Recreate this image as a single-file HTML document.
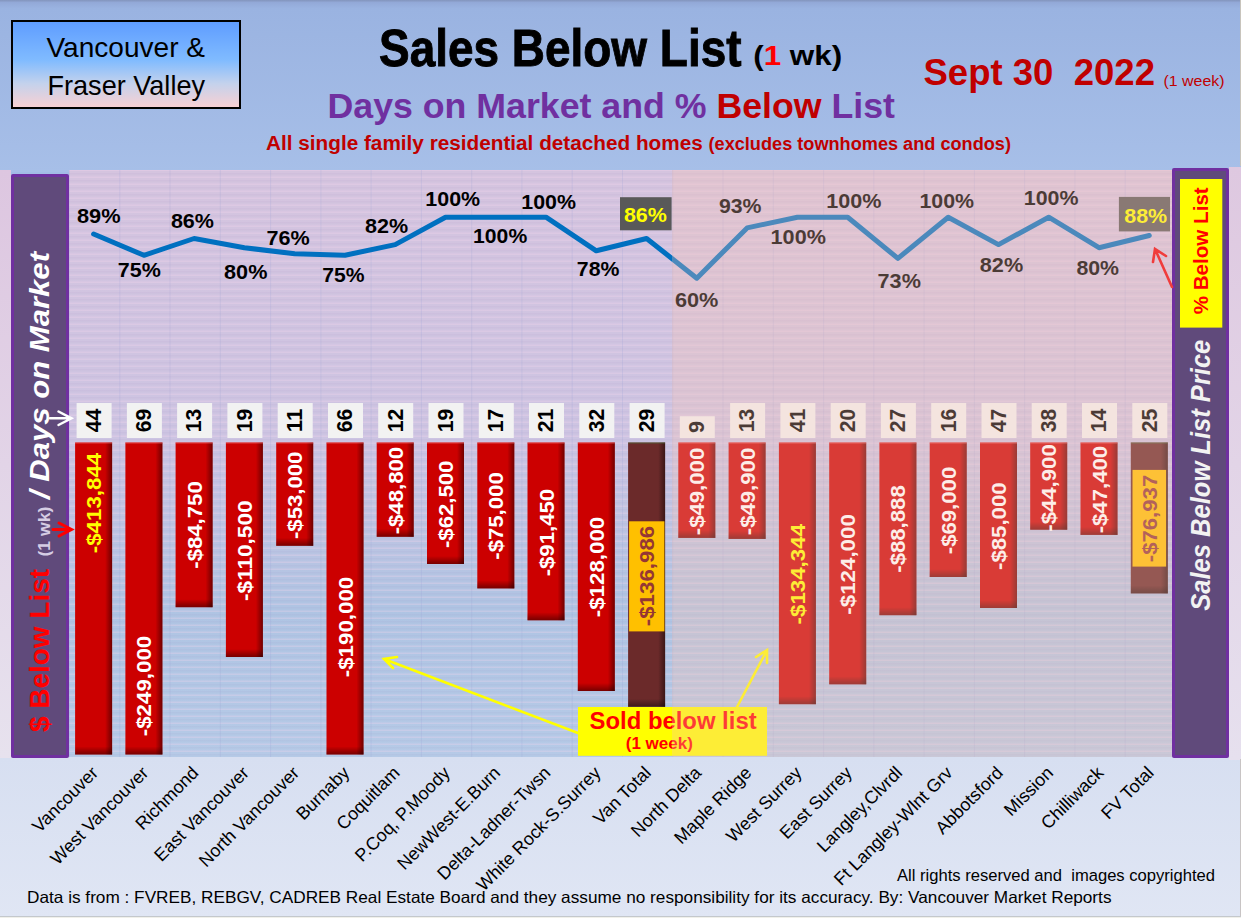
<!DOCTYPE html>
<html><head><meta charset="utf-8"><title>Sales Below List</title>
<style>
html,body{margin:0;padding:0;background:#A3BCE6;}
body{width:1241px;height:918px;overflow:hidden;position:relative;}
svg{position:absolute;left:0;top:0;display:block;}
text{font-family:"Liberation Sans",sans-serif;white-space:pre;}
</style></head><body>
<svg width="1241" height="918" viewBox="0 0 1241 918">
<defs>
<linearGradient id="hdr" x1="0" y1="0" x2="0" y2="1">
 <stop offset="0" stop-color="#8294BC"/><stop offset="0.015" stop-color="#93A9D8"/><stop offset="0.05" stop-color="#9AB3E1"/><stop offset="1" stop-color="#A7BFE8"/>
</linearGradient>
<linearGradient id="plotV" x1="0" y1="0" x2="0" y2="1">
 <stop offset="0" stop-color="#D5C4DF"/><stop offset="0.45" stop-color="#CDC4E2"/><stop offset="0.75" stop-color="#AFC4E3"/><stop offset="1" stop-color="#B6CAE7"/>
</linearGradient>
<linearGradient id="lstrip" x1="0" y1="0" x2="0" y2="1">
 <stop offset="0" stop-color="#DDC6E0"/><stop offset="1" stop-color="#E7E2EE"/>
</linearGradient>
<linearGradient id="rstrip" x1="0" y1="0" x2="0" y2="1">
 <stop offset="0" stop-color="#DEC8E0"/><stop offset="1" stop-color="#E6E0EE"/>
</linearGradient>
<linearGradient id="boxg" x1="0" y1="0" x2="0" y2="1">
 <stop offset="0" stop-color="#5E9CFF"/><stop offset="0.45" stop-color="#80BBFF"/><stop offset="0.72" stop-color="#C4D2EC"/><stop offset="1" stop-color="#FAD0D2"/>
</linearGradient>
<linearGradient id="botg" x1="0" y1="0" x2="0" y2="1">
 <stop offset="0" stop-color="#D7DFF1"/><stop offset="1" stop-color="#E0E6F4"/>
</linearGradient>
<pattern id="stripes" x="0" y="0" width="7" height="7" patternUnits="userSpaceOnUse">
 <rect x="0" y="1.5" width="7" height="1.5" fill="#F4D4EC" fill-opacity="0.30"/>
 <rect x="0" y="5" width="7" height="1.5" fill="#8070A0" fill-opacity="0.06"/>
</pattern>
<linearGradient id="shR" x1="0" y1="0" x2="1" y2="0">
 <stop offset="0" stop-color="#000" stop-opacity="0"/><stop offset="1" stop-color="#000" stop-opacity="0.45"/>
</linearGradient>
<linearGradient id="shB" x1="0" y1="0" x2="0" y2="1">
 <stop offset="0" stop-color="#000" stop-opacity="0"/><stop offset="1" stop-color="#000" stop-opacity="0.42"/>
</linearGradient>
</defs>

<rect x="0" y="0" width="1241" height="172" fill="url(#hdr)"/>
<rect x="0" y="757" width="1241" height="161" fill="url(#botg)"/>
<rect x="0" y="170" width="11" height="588" fill="url(#lstrip)"/>
<rect x="1229" y="167" width="12" height="593" fill="url(#rstrip)"/>
<rect x="69" y="170" width="1103" height="587" fill="url(#plotV)"/>
<rect x="69" y="170" width="1103" height="587" fill="url(#stripes)"/>
<rect x="69.0" y="170" width="1" height="587" fill="#9AA0D8" fill-opacity="0.22"/>
<rect x="119.3" y="170" width="1" height="587" fill="#9AA0D8" fill-opacity="0.22"/>
<rect x="169.5" y="170" width="1" height="587" fill="#9AA0D8" fill-opacity="0.22"/>
<rect x="219.8" y="170" width="1" height="587" fill="#9AA0D8" fill-opacity="0.22"/>
<rect x="270.1" y="170" width="1" height="587" fill="#9AA0D8" fill-opacity="0.22"/>
<rect x="320.4" y="170" width="1" height="587" fill="#9AA0D8" fill-opacity="0.22"/>
<rect x="370.6" y="170" width="1" height="587" fill="#9AA0D8" fill-opacity="0.22"/>
<rect x="420.9" y="170" width="1" height="587" fill="#9AA0D8" fill-opacity="0.22"/>
<rect x="471.2" y="170" width="1" height="587" fill="#9AA0D8" fill-opacity="0.22"/>
<rect x="521.4" y="170" width="1" height="587" fill="#9AA0D8" fill-opacity="0.22"/>
<rect x="571.7" y="170" width="1" height="587" fill="#9AA0D8" fill-opacity="0.22"/>
<rect x="622.0" y="170" width="1" height="587" fill="#9AA0D8" fill-opacity="0.22"/>
<rect x="672.2" y="170" width="1" height="587" fill="#9AA0D8" fill-opacity="0.22"/>
<rect x="722.5" y="170" width="1" height="587" fill="#9AA0D8" fill-opacity="0.22"/>
<rect x="772.8" y="170" width="1" height="587" fill="#9AA0D8" fill-opacity="0.22"/>
<rect x="823.1" y="170" width="1" height="587" fill="#9AA0D8" fill-opacity="0.22"/>
<rect x="873.3" y="170" width="1" height="587" fill="#9AA0D8" fill-opacity="0.22"/>
<rect x="923.6" y="170" width="1" height="587" fill="#9AA0D8" fill-opacity="0.22"/>
<rect x="973.9" y="170" width="1" height="587" fill="#9AA0D8" fill-opacity="0.22"/>
<rect x="1024.1" y="170" width="1" height="587" fill="#9AA0D8" fill-opacity="0.22"/>
<rect x="1074.4" y="170" width="1" height="587" fill="#9AA0D8" fill-opacity="0.22"/>
<rect x="1124.7" y="170" width="1" height="587" fill="#9AA0D8" fill-opacity="0.22"/>
<rect x="1174.9" y="170" width="1" height="587" fill="#9AA0D8" fill-opacity="0.22"/>
<rect x="1240" y="759" width="1" height="159" fill="#C8C4C4"/>
<rect x="1240" y="0" width="1" height="166" fill="#C8C4BC"/>
<rect x="0" y="916" width="1241" height="1" fill="#C4C8CC"/>
<rect x="0" y="917" width="1241" height="1" fill="#F0F0EA"/>
<rect x="75.1" y="442.5" width="37" height="312.0" fill="#CC0000"/>
<rect x="105.1" y="442.5" width="7" height="312.0" fill="url(#shR)"/>
<rect x="75.1" y="746.5" width="37" height="8" fill="url(#shB)"/>
<rect x="75.1" y="442.5" width="37" height="1" fill="#F06060" fill-opacity="0.7"/>
<rect x="125.4" y="442.5" width="37" height="312.0" fill="#CC0000"/>
<rect x="155.4" y="442.5" width="7" height="312.0" fill="url(#shR)"/>
<rect x="125.4" y="746.5" width="37" height="8" fill="url(#shB)"/>
<rect x="125.4" y="442.5" width="37" height="1" fill="#F06060" fill-opacity="0.7"/>
<rect x="175.6" y="442.5" width="37" height="164.7" fill="#CC0000"/>
<rect x="205.6" y="442.5" width="7" height="164.7" fill="url(#shR)"/>
<rect x="175.6" y="599.2" width="37" height="8" fill="url(#shB)"/>
<rect x="175.6" y="442.5" width="37" height="1" fill="#F06060" fill-opacity="0.7"/>
<rect x="225.9" y="442.5" width="37" height="214.5" fill="#CC0000"/>
<rect x="255.9" y="442.5" width="7" height="214.5" fill="url(#shR)"/>
<rect x="225.9" y="649.0" width="37" height="8" fill="url(#shB)"/>
<rect x="225.9" y="442.5" width="37" height="1" fill="#F06060" fill-opacity="0.7"/>
<rect x="276.2" y="442.5" width="37" height="103.3" fill="#CC0000"/>
<rect x="306.2" y="442.5" width="7" height="103.3" fill="url(#shR)"/>
<rect x="276.2" y="537.8" width="37" height="8" fill="url(#shB)"/>
<rect x="276.2" y="442.5" width="37" height="1" fill="#F06060" fill-opacity="0.7"/>
<rect x="326.5" y="442.5" width="37" height="312.0" fill="#CC0000"/>
<rect x="356.5" y="442.5" width="7" height="312.0" fill="url(#shR)"/>
<rect x="326.5" y="746.5" width="37" height="8" fill="url(#shB)"/>
<rect x="326.5" y="442.5" width="37" height="1" fill="#F06060" fill-opacity="0.7"/>
<rect x="376.7" y="442.5" width="37" height="94.3" fill="#CC0000"/>
<rect x="406.7" y="442.5" width="7" height="94.3" fill="url(#shR)"/>
<rect x="376.7" y="528.8" width="37" height="8" fill="url(#shB)"/>
<rect x="376.7" y="442.5" width="37" height="1" fill="#F06060" fill-opacity="0.7"/>
<rect x="427.0" y="442.5" width="37" height="121.5" fill="#CC0000"/>
<rect x="457.0" y="442.5" width="7" height="121.5" fill="url(#shR)"/>
<rect x="427.0" y="556.0" width="37" height="8" fill="url(#shB)"/>
<rect x="427.0" y="442.5" width="37" height="1" fill="#F06060" fill-opacity="0.7"/>
<rect x="477.3" y="442.5" width="37" height="145.9" fill="#CC0000"/>
<rect x="507.3" y="442.5" width="7" height="145.9" fill="url(#shR)"/>
<rect x="477.3" y="580.4" width="37" height="8" fill="url(#shB)"/>
<rect x="477.3" y="442.5" width="37" height="1" fill="#F06060" fill-opacity="0.7"/>
<rect x="527.5" y="442.5" width="37" height="177.8" fill="#CC0000"/>
<rect x="557.5" y="442.5" width="7" height="177.8" fill="url(#shR)"/>
<rect x="527.5" y="612.3" width="37" height="8" fill="url(#shB)"/>
<rect x="527.5" y="442.5" width="37" height="1" fill="#F06060" fill-opacity="0.7"/>
<rect x="577.8" y="442.5" width="37" height="248.5" fill="#CC0000"/>
<rect x="607.8" y="442.5" width="7" height="248.5" fill="url(#shR)"/>
<rect x="577.8" y="683.0" width="37" height="8" fill="url(#shB)"/>
<rect x="577.8" y="442.5" width="37" height="1" fill="#F06060" fill-opacity="0.7"/>
<rect x="628.1" y="442.5" width="37" height="264.3" fill="#6B2A2A"/>
<rect x="658.1" y="442.5" width="7" height="264.3" fill="url(#shR)"/>
<rect x="628.1" y="698.8" width="37" height="8" fill="url(#shB)"/>
<rect x="628.1" y="442.5" width="37" height="1" fill="#4A6A3A" fill-opacity="0.7"/>
<rect x="678.3" y="442.5" width="37" height="95.4" fill="#CC0000"/>
<rect x="708.3" y="442.5" width="7" height="95.4" fill="url(#shR)"/>
<rect x="678.3" y="529.9" width="37" height="8" fill="url(#shB)"/>
<rect x="678.3" y="442.5" width="37" height="1" fill="#F06060" fill-opacity="0.7"/>
<rect x="728.6" y="442.5" width="37" height="96.4" fill="#CC0000"/>
<rect x="758.6" y="442.5" width="7" height="96.4" fill="url(#shR)"/>
<rect x="728.6" y="530.9" width="37" height="8" fill="url(#shB)"/>
<rect x="728.6" y="442.5" width="37" height="1" fill="#F06060" fill-opacity="0.7"/>
<rect x="778.9" y="442.5" width="37" height="261.7" fill="#CC0000"/>
<rect x="808.9" y="442.5" width="7" height="261.7" fill="url(#shR)"/>
<rect x="778.9" y="696.2" width="37" height="8" fill="url(#shB)"/>
<rect x="778.9" y="442.5" width="37" height="1" fill="#F06060" fill-opacity="0.7"/>
<rect x="829.2" y="442.5" width="37" height="241.8" fill="#CC0000"/>
<rect x="859.2" y="442.5" width="7" height="241.8" fill="url(#shR)"/>
<rect x="829.2" y="676.3" width="37" height="8" fill="url(#shB)"/>
<rect x="829.2" y="442.5" width="37" height="1" fill="#F06060" fill-opacity="0.7"/>
<rect x="879.4" y="442.5" width="37" height="172.7" fill="#CC0000"/>
<rect x="909.4" y="442.5" width="7" height="172.7" fill="url(#shR)"/>
<rect x="879.4" y="607.2" width="37" height="8" fill="url(#shB)"/>
<rect x="879.4" y="442.5" width="37" height="1" fill="#F06060" fill-opacity="0.7"/>
<rect x="929.7" y="442.5" width="37" height="134.5" fill="#CC0000"/>
<rect x="959.7" y="442.5" width="7" height="134.5" fill="url(#shR)"/>
<rect x="929.7" y="569.0" width="37" height="8" fill="url(#shB)"/>
<rect x="929.7" y="442.5" width="37" height="1" fill="#F06060" fill-opacity="0.7"/>
<rect x="980.0" y="442.5" width="37" height="165.5" fill="#CC0000"/>
<rect x="1010.0" y="442.5" width="7" height="165.5" fill="url(#shR)"/>
<rect x="980.0" y="600.0" width="37" height="8" fill="url(#shB)"/>
<rect x="980.0" y="442.5" width="37" height="1" fill="#F06060" fill-opacity="0.7"/>
<rect x="1030.2" y="442.5" width="37" height="87.2" fill="#CC0000"/>
<rect x="1060.2" y="442.5" width="7" height="87.2" fill="url(#shR)"/>
<rect x="1030.2" y="521.7" width="37" height="8" fill="url(#shB)"/>
<rect x="1030.2" y="442.5" width="37" height="1" fill="#F06060" fill-opacity="0.7"/>
<rect x="1080.5" y="442.5" width="37" height="92.4" fill="#CC0000"/>
<rect x="1110.5" y="442.5" width="7" height="92.4" fill="url(#shR)"/>
<rect x="1080.5" y="526.9" width="37" height="8" fill="url(#shB)"/>
<rect x="1080.5" y="442.5" width="37" height="1" fill="#F06060" fill-opacity="0.7"/>
<rect x="1130.8" y="442.5" width="37" height="150.9" fill="#6B2A2A"/>
<rect x="1160.8" y="442.5" width="7" height="150.9" fill="url(#shR)"/>
<rect x="1130.8" y="585.4" width="37" height="8" fill="url(#shB)"/>
<rect x="1130.8" y="442.5" width="37" height="1" fill="#4A6A3A" fill-opacity="0.7"/>
<rect x="76.6" y="403" width="35" height="35.0" fill="#F2F2F2"/>
<text transform="translate(100.9,420.5) rotate(-90)" text-anchor="middle" font-size="21.3" font-weight="bold" fill="#000000" textLength="23.5" lengthAdjust="spacingAndGlyphs">44</text>
<rect x="126.9" y="403" width="35" height="35.0" fill="#F2F2F2"/>
<text transform="translate(151.2,420.5) rotate(-90)" text-anchor="middle" font-size="21.3" font-weight="bold" fill="#000000" textLength="23.5" lengthAdjust="spacingAndGlyphs">69</text>
<rect x="177.1" y="403" width="35" height="35.0" fill="#F2F2F2"/>
<text transform="translate(201.4,420.5) rotate(-90)" text-anchor="middle" font-size="21.3" font-weight="bold" fill="#000000" textLength="23.5" lengthAdjust="spacingAndGlyphs">13</text>
<rect x="227.4" y="403" width="35" height="35.0" fill="#F2F2F2"/>
<text transform="translate(251.7,420.5) rotate(-90)" text-anchor="middle" font-size="21.3" font-weight="bold" fill="#000000" textLength="23.5" lengthAdjust="spacingAndGlyphs">19</text>
<rect x="277.7" y="403" width="35" height="35.0" fill="#F2F2F2"/>
<text transform="translate(302.0,420.5) rotate(-90)" text-anchor="middle" font-size="21.3" font-weight="bold" fill="#000000" textLength="23.5" lengthAdjust="spacingAndGlyphs">11</text>
<rect x="328.0" y="403" width="35" height="35.0" fill="#F2F2F2"/>
<text transform="translate(352.3,420.5) rotate(-90)" text-anchor="middle" font-size="21.3" font-weight="bold" fill="#000000" textLength="23.5" lengthAdjust="spacingAndGlyphs">66</text>
<rect x="378.2" y="403" width="35" height="35.0" fill="#F2F2F2"/>
<text transform="translate(402.5,420.5) rotate(-90)" text-anchor="middle" font-size="21.3" font-weight="bold" fill="#000000" textLength="23.5" lengthAdjust="spacingAndGlyphs">12</text>
<rect x="428.5" y="403" width="35" height="35.0" fill="#F2F2F2"/>
<text transform="translate(452.8,420.5) rotate(-90)" text-anchor="middle" font-size="21.3" font-weight="bold" fill="#000000" textLength="23.5" lengthAdjust="spacingAndGlyphs">19</text>
<rect x="478.8" y="403" width="35" height="35.0" fill="#F2F2F2"/>
<text transform="translate(503.1,420.5) rotate(-90)" text-anchor="middle" font-size="21.3" font-weight="bold" fill="#000000" textLength="23.5" lengthAdjust="spacingAndGlyphs">17</text>
<rect x="529.0" y="403" width="35" height="35.0" fill="#F2F2F2"/>
<text transform="translate(553.3,420.5) rotate(-90)" text-anchor="middle" font-size="21.3" font-weight="bold" fill="#000000" textLength="23.5" lengthAdjust="spacingAndGlyphs">21</text>
<rect x="579.3" y="403" width="35" height="35.0" fill="#F2F2F2"/>
<text transform="translate(603.6,420.5) rotate(-90)" text-anchor="middle" font-size="21.3" font-weight="bold" fill="#000000" textLength="23.5" lengthAdjust="spacingAndGlyphs">32</text>
<rect x="629.6" y="403" width="35" height="35.0" fill="#F2F2F2"/>
<text transform="translate(653.9,420.5) rotate(-90)" text-anchor="middle" font-size="21.3" font-weight="bold" fill="#000000" textLength="23.5" lengthAdjust="spacingAndGlyphs">29</text>
<rect x="679.8" y="416.2" width="35" height="21.8" fill="#F2F2F2"/>
<text transform="translate(704.1,427.1) rotate(-90)" text-anchor="middle" font-size="21.3" font-weight="bold" fill="#000000" textLength="12" lengthAdjust="spacingAndGlyphs">9</text>
<rect x="730.1" y="403" width="35" height="35.0" fill="#F2F2F2"/>
<text transform="translate(754.4,420.5) rotate(-90)" text-anchor="middle" font-size="21.3" font-weight="bold" fill="#000000" textLength="23.5" lengthAdjust="spacingAndGlyphs">13</text>
<rect x="780.4" y="403" width="35" height="35.0" fill="#F2F2F2"/>
<text transform="translate(804.7,420.5) rotate(-90)" text-anchor="middle" font-size="21.3" font-weight="bold" fill="#000000" textLength="23.5" lengthAdjust="spacingAndGlyphs">41</text>
<rect x="830.7" y="403" width="35" height="35.0" fill="#F2F2F2"/>
<text transform="translate(855.0,420.5) rotate(-90)" text-anchor="middle" font-size="21.3" font-weight="bold" fill="#000000" textLength="23.5" lengthAdjust="spacingAndGlyphs">20</text>
<rect x="880.9" y="403" width="35" height="35.0" fill="#F2F2F2"/>
<text transform="translate(905.2,420.5) rotate(-90)" text-anchor="middle" font-size="21.3" font-weight="bold" fill="#000000" textLength="23.5" lengthAdjust="spacingAndGlyphs">27</text>
<rect x="931.2" y="403" width="35" height="35.0" fill="#F2F2F2"/>
<text transform="translate(955.5,420.5) rotate(-90)" text-anchor="middle" font-size="21.3" font-weight="bold" fill="#000000" textLength="23.5" lengthAdjust="spacingAndGlyphs">16</text>
<rect x="981.5" y="403" width="35" height="35.0" fill="#F2F2F2"/>
<text transform="translate(1005.8,420.5) rotate(-90)" text-anchor="middle" font-size="21.3" font-weight="bold" fill="#000000" textLength="23.5" lengthAdjust="spacingAndGlyphs">47</text>
<rect x="1031.7" y="403" width="35" height="35.0" fill="#F2F2F2"/>
<text transform="translate(1056.0,420.5) rotate(-90)" text-anchor="middle" font-size="21.3" font-weight="bold" fill="#000000" textLength="23.5" lengthAdjust="spacingAndGlyphs">38</text>
<rect x="1082.0" y="403" width="35" height="35.0" fill="#F2F2F2"/>
<text transform="translate(1106.3,420.5) rotate(-90)" text-anchor="middle" font-size="21.3" font-weight="bold" fill="#000000" textLength="23.5" lengthAdjust="spacingAndGlyphs">14</text>
<rect x="1132.3" y="403" width="35" height="35.0" fill="#F2F2F2"/>
<text transform="translate(1156.6,420.5) rotate(-90)" text-anchor="middle" font-size="21.3" font-weight="bold" fill="#000000" textLength="23.5" lengthAdjust="spacingAndGlyphs">25</text>
<text transform="translate(101.1,503.0) rotate(-90)" text-anchor="middle" font-size="20" font-weight="bold" fill="#FFFF00" textLength="100.5" lengthAdjust="spacingAndGlyphs">-$413,844</text>
<text transform="translate(151.4,686.0) rotate(-90)" text-anchor="middle" font-size="20" font-weight="bold" fill="#FFFFFF" textLength="100.5" lengthAdjust="spacingAndGlyphs">-$249,000</text>
<text transform="translate(201.6,525.0) rotate(-90)" text-anchor="middle" font-size="20" font-weight="bold" fill="#FFFFFF" textLength="87.5" lengthAdjust="spacingAndGlyphs">-$84,750</text>
<text transform="translate(251.9,550.7) rotate(-90)" text-anchor="middle" font-size="20" font-weight="bold" fill="#FFFFFF" textLength="100.5" lengthAdjust="spacingAndGlyphs">-$110,500</text>
<text transform="translate(302.2,495.3) rotate(-90)" text-anchor="middle" font-size="20" font-weight="bold" fill="#FFFFFF" textLength="87.5" lengthAdjust="spacingAndGlyphs">-$53,000</text>
<text transform="translate(352.5,627.0) rotate(-90)" text-anchor="middle" font-size="20" font-weight="bold" fill="#FFFFFF" textLength="100.5" lengthAdjust="spacingAndGlyphs">-$190,000</text>
<text transform="translate(402.7,490.6) rotate(-90)" text-anchor="middle" font-size="20" font-weight="bold" fill="#FFFFFF" textLength="87.5" lengthAdjust="spacingAndGlyphs">-$48,800</text>
<text transform="translate(453.0,504.3) rotate(-90)" text-anchor="middle" font-size="20" font-weight="bold" fill="#FFFFFF" textLength="87.5" lengthAdjust="spacingAndGlyphs">-$62,500</text>
<text transform="translate(503.3,516.0) rotate(-90)" text-anchor="middle" font-size="20" font-weight="bold" fill="#FFFFFF" textLength="87.5" lengthAdjust="spacingAndGlyphs">-$75,000</text>
<text transform="translate(553.5,532.6) rotate(-90)" text-anchor="middle" font-size="20" font-weight="bold" fill="#FFFFFF" textLength="87.5" lengthAdjust="spacingAndGlyphs">-$91,450</text>
<text transform="translate(603.8,567.0) rotate(-90)" text-anchor="middle" font-size="20" font-weight="bold" fill="#FFFFFF" textLength="100.5" lengthAdjust="spacingAndGlyphs">-$128,000</text>
<rect x="629.1" y="521.3" width="35.3" height="110.1" fill="#FFC000"/>
<text transform="translate(654.1,576.0) rotate(-90)" text-anchor="middle" font-size="20" font-weight="bold" fill="#953735" textLength="100.5" lengthAdjust="spacingAndGlyphs">-$136,986</text>
<text transform="translate(704.3,491.5) rotate(-90)" text-anchor="middle" font-size="20" font-weight="bold" fill="#FFFFFF" textLength="87.5" lengthAdjust="spacingAndGlyphs">-$49,000</text>
<text transform="translate(754.6,491.5) rotate(-90)" text-anchor="middle" font-size="20" font-weight="bold" fill="#FFFFFF" textLength="87.5" lengthAdjust="spacingAndGlyphs">-$49,900</text>
<text transform="translate(804.9,574.2) rotate(-90)" text-anchor="middle" font-size="20" font-weight="bold" fill="#FFFF00" textLength="100.5" lengthAdjust="spacingAndGlyphs">-$134,344</text>
<text transform="translate(855.2,564.4) rotate(-90)" text-anchor="middle" font-size="20" font-weight="bold" fill="#FFFFFF" textLength="100.5" lengthAdjust="spacingAndGlyphs">-$124,000</text>
<text transform="translate(905.4,529.0) rotate(-90)" text-anchor="middle" font-size="20" font-weight="bold" fill="#FFFFFF" textLength="87.5" lengthAdjust="spacingAndGlyphs">-$88,888</text>
<text transform="translate(955.7,510.5) rotate(-90)" text-anchor="middle" font-size="20" font-weight="bold" fill="#FFFFFF" textLength="87.5" lengthAdjust="spacingAndGlyphs">-$69,000</text>
<text transform="translate(1006.0,526.2) rotate(-90)" text-anchor="middle" font-size="20" font-weight="bold" fill="#FFFFFF" textLength="87.5" lengthAdjust="spacingAndGlyphs">-$85,000</text>
<text transform="translate(1056.2,488.0) rotate(-90)" text-anchor="middle" font-size="20" font-weight="bold" fill="#FFFFFF" textLength="87.5" lengthAdjust="spacingAndGlyphs">-$44,900</text>
<text transform="translate(1106.5,489.6) rotate(-90)" text-anchor="middle" font-size="20" font-weight="bold" fill="#FFFFFF" textLength="87.5" lengthAdjust="spacingAndGlyphs">-$47,400</text>
<rect x="1132.5" y="469.9" width="33.6" height="96.7" fill="#FFC000"/>
<text transform="translate(1156.8,518.5) rotate(-90)" text-anchor="middle" font-size="20" font-weight="bold" fill="#953735" textLength="87.5" lengthAdjust="spacingAndGlyphs">-$76,937</text>
<polyline points="93.6,234.0 143.9,255.3 194.1,238.5 244.4,247.7 294.7,253.8 345.0,255.3 395.2,244.6 445.5,217.2 495.8,217.2 546.0,217.2 596.3,250.8 646.6,238.5 696.8,278.2 747.1,227.9 797.4,217.2 847.7,217.2 897.9,258.4 948.2,217.2 998.5,244.6 1048.7,217.2 1099.0,247.7 1149.3,235.5" fill="none" stroke="#0070C0" stroke-width="5" stroke-linejoin="round" stroke-linecap="round"/>
<rect x="620" y="197.2" width="51.6" height="33.1" fill="#595959"/>
<rect x="1118.9" y="196.9" width="51.1" height="34.5" fill="#595959"/>
<text x="77.0" y="223.3" font-size="19.8" font-weight="bold" fill="#000000" textLength="43.6" lengthAdjust="spacingAndGlyphs">89%</text>
<text x="117.8" y="277.3" font-size="19.8" font-weight="bold" fill="#000000" textLength="43.0" lengthAdjust="spacingAndGlyphs">75%</text>
<text x="170.9" y="228.1" font-size="19.8" font-weight="bold" fill="#000000" textLength="43.1" lengthAdjust="spacingAndGlyphs">86%</text>
<text x="224.1" y="278.9" font-size="19.8" font-weight="bold" fill="#000000" textLength="43.3" lengthAdjust="spacingAndGlyphs">80%</text>
<text x="266.6" y="244.6" font-size="19.8" font-weight="bold" fill="#000000" textLength="43.2" lengthAdjust="spacingAndGlyphs">76%</text>
<text x="322.3" y="282.4" font-size="19.8" font-weight="bold" fill="#000000" textLength="42.3" lengthAdjust="spacingAndGlyphs">75%</text>
<text x="365.0" y="233.3" font-size="19.8" font-weight="bold" fill="#000000" textLength="43.1" lengthAdjust="spacingAndGlyphs">82%</text>
<text x="425.3" y="205.6" font-size="19.8" font-weight="bold" fill="#000000" textLength="54.8" lengthAdjust="spacingAndGlyphs">100%</text>
<text x="473.1" y="242.7" font-size="19.8" font-weight="bold" fill="#000000" textLength="54.1" lengthAdjust="spacingAndGlyphs">100%</text>
<text x="521.3" y="208.5" font-size="19.8" font-weight="bold" fill="#000000" textLength="54.7" lengthAdjust="spacingAndGlyphs">100%</text>
<text x="576.8" y="275.6" font-size="19.8" font-weight="bold" fill="#000000" textLength="42.6" lengthAdjust="spacingAndGlyphs">78%</text>
<text x="623.9" y="222.4" font-size="19.8" font-weight="bold" fill="#FFFF00" textLength="43.0" lengthAdjust="spacingAndGlyphs">86%</text>
<text x="674.9" y="306.9" font-size="19.8" font-weight="bold" fill="#000000" textLength="43.5" lengthAdjust="spacingAndGlyphs">60%</text>
<text x="718.9" y="213.4" font-size="19.8" font-weight="bold" fill="#000000" textLength="42.6" lengthAdjust="spacingAndGlyphs">93%</text>
<text x="770.6" y="243.8" font-size="19.8" font-weight="bold" fill="#000000" textLength="55.3" lengthAdjust="spacingAndGlyphs">100%</text>
<text x="826.2" y="207.7" font-size="19.8" font-weight="bold" fill="#000000" textLength="55.2" lengthAdjust="spacingAndGlyphs">100%</text>
<text x="877.6" y="287.8" font-size="19.8" font-weight="bold" fill="#000000" textLength="43.3" lengthAdjust="spacingAndGlyphs">73%</text>
<text x="919.4" y="207.5" font-size="19.8" font-weight="bold" fill="#000000" textLength="54.7" lengthAdjust="spacingAndGlyphs">100%</text>
<text x="979.8" y="272.3" font-size="19.8" font-weight="bold" fill="#000000" textLength="43.4" lengthAdjust="spacingAndGlyphs">82%</text>
<text x="1023.8" y="205.3" font-size="19.8" font-weight="bold" fill="#000000" textLength="54.7" lengthAdjust="spacingAndGlyphs">100%</text>
<text x="1076.4" y="275.2" font-size="19.8" font-weight="bold" fill="#000000" textLength="42.7" lengthAdjust="spacingAndGlyphs">80%</text>
<text x="1124.2" y="223.3" font-size="19.8" font-weight="bold" fill="#FFFF00" textLength="43.0" lengthAdjust="spacingAndGlyphs">88%</text>
<rect x="578" y="707" width="189" height="48.8" fill="#FFFF00"/>
<text x="589.6" y="728.6" font-size="23.5" font-weight="bold" fill="#FF0000" textLength="167" lengthAdjust="spacingAndGlyphs">Sold below list</text>
<text x="625.8" y="749" font-size="17" font-weight="bold" fill="#FF0000" textLength="67" lengthAdjust="spacingAndGlyphs">(1 week)</text>
<path d="M578,733 L384,659 M397,657 L384,659 L393,668" stroke="#FFFF00" stroke-width="2.6" fill="none" stroke-linecap="round"/>
<path d="M737,707 L767,650 M756,657 L767,650 L767,663" stroke="#FFFF00" stroke-width="2.6" fill="none" stroke-linecap="round"/>
<rect x="672" y="170" width="500" height="587" fill="#F7C5B4" fill-opacity="0.3"/>
<rect x="12.5" y="175.5" width="55" height="581" rx="0.5" fill="#604A7B" stroke="#7030A0" stroke-width="3"/>
<rect x="1173.5" y="169.5" width="54" height="587" rx="0.5" fill="#604A7B" stroke="#7030A0" stroke-width="3"/>
<rect x="1180" y="179" width="42.3" height="148.6" fill="#FFFF00"/>
<text transform="translate(1207.5,250.8) rotate(-90)" text-anchor="middle" font-size="21" font-weight="bold" fill="#FF0000" textLength="127" lengthAdjust="spacingAndGlyphs">% Below List</text>
<text transform="translate(1210,475.2) rotate(-90)" text-anchor="middle" font-size="27" font-weight="bold" font-style="italic" fill="#F2F2F2" textLength="271" lengthAdjust="spacingAndGlyphs">Sales Below List Price</text>
<text transform="translate(49,732) rotate(-90)" font-size="27" font-weight="bold" fill="#FF0000" textLength="163" lengthAdjust="spacingAndGlyphs">$ Below List</text>
<text transform="translate(49.5,556.5) rotate(-90)" font-size="17" font-weight="bold" fill="#D6CDE4" textLength="50" lengthAdjust="spacingAndGlyphs">(1 wk)</text>
<text transform="translate(49,499) rotate(-90)" font-size="27" font-weight="bold" font-style="italic" fill="#FFFFFF" textLength="247" lengthAdjust="spacingAndGlyphs">/ Days on Market</text>
<path d="M50,418.3 L71,418.3 M58.5,411.5 L71.5,418.3 L58.5,425" stroke="#FFFFFF" stroke-width="2.5" fill="none" stroke-linecap="round"/>
<path d="M53,529.4 L71,529.4 M59,523 L71.5,529.4 L59,536" stroke="#FF0000" stroke-width="3" fill="none" stroke-linecap="round"/>
<path d="M1172,287 L1155,249 M1153,262 L1155,249 L1166,256" stroke="#F03C3C" stroke-width="2.6" fill="none" stroke-linecap="round"/>
<text transform="translate(99.1,774) rotate(-45)" text-anchor="end" font-size="17.9" fill="#000000">Vancouver</text>
<text transform="translate(149.4,774) rotate(-45)" text-anchor="end" font-size="17.9" fill="#000000">West Vancouver</text>
<text transform="translate(199.6,774) rotate(-45)" text-anchor="end" font-size="17.9" fill="#000000">Richmond</text>
<text transform="translate(249.9,774) rotate(-45)" text-anchor="end" font-size="17.9" fill="#000000">East Vancouver</text>
<text transform="translate(300.2,774) rotate(-45)" text-anchor="end" font-size="17.9" fill="#000000">North Vancouver</text>
<text transform="translate(350.5,774) rotate(-45)" text-anchor="end" font-size="17.9" fill="#000000">Burnaby</text>
<text transform="translate(400.7,774) rotate(-45)" text-anchor="end" font-size="17.9" fill="#000000">Coquitlam</text>
<text transform="translate(451.0,774) rotate(-45)" text-anchor="end" font-size="17.9" fill="#000000">P.Coq, P.Moody</text>
<text transform="translate(501.3,774) rotate(-45)" text-anchor="end" font-size="17.9" fill="#000000">NewWest-E.Burn</text>
<text transform="translate(551.5,774) rotate(-45)" text-anchor="end" font-size="17.9" fill="#000000">Delta-Ladner-Twsn</text>
<text transform="translate(601.8,774) rotate(-45)" text-anchor="end" font-size="17.9" fill="#000000">White Rock-S.Surrey</text>
<text transform="translate(652.1,774) rotate(-45)" text-anchor="end" font-size="17.9" fill="#000000">Van Total</text>
<text transform="translate(702.3,774) rotate(-45)" text-anchor="end" font-size="17.9" fill="#000000">North Delta</text>
<text transform="translate(752.6,774) rotate(-45)" text-anchor="end" font-size="17.9" fill="#000000">Maple Ridge</text>
<text transform="translate(802.9,774) rotate(-45)" text-anchor="end" font-size="17.9" fill="#000000">West Surrey</text>
<text transform="translate(853.2,774) rotate(-45)" text-anchor="end" font-size="17.9" fill="#000000">East Surrey</text>
<text transform="translate(903.4,774) rotate(-45)" text-anchor="end" font-size="17.9" fill="#000000">Langley,Clvrdl</text>
<text transform="translate(953.7,774) rotate(-45)" text-anchor="end" font-size="17.9" fill="#000000">Ft Langley-Wlnt Grv</text>
<text transform="translate(1004.0,774) rotate(-45)" text-anchor="end" font-size="17.9" fill="#000000">Abbotsford</text>
<text transform="translate(1054.2,774) rotate(-45)" text-anchor="end" font-size="17.9" fill="#000000">Mission</text>
<text transform="translate(1104.5,774) rotate(-45)" text-anchor="end" font-size="17.9" fill="#000000">Chilliwack</text>
<text transform="translate(1154.8,774) rotate(-45)" text-anchor="end" font-size="17.9" fill="#000000">FV Total</text>
<rect x="12" y="21" width="228" height="87" fill="url(#boxg)" stroke="#000000" stroke-width="2"/>
<text x="46.5" y="57" font-size="28.3" fill="#000000" textLength="158.5" lengthAdjust="spacingAndGlyphs">Vancouver &amp;</text>
<text x="47.5" y="94.5" font-size="28.3" fill="#000000" textLength="157.5" lengthAdjust="spacingAndGlyphs">Fraser Valley</text>
<text x="379" y="65.8" font-size="51.5" font-weight="bold" fill="#000000" stroke="#000000" stroke-width="0.9" textLength="362.5" lengthAdjust="spacingAndGlyphs">Sales Below List</text>
<text x="753.2" y="64.8" font-size="28" font-weight="bold" fill="#000000" textLength="89" lengthAdjust="spacingAndGlyphs">(<tspan fill="#FF0000">1</tspan> wk)</text>
<text x="327.5" y="118" font-size="35" font-weight="bold" fill="#7030A0" textLength="567.5" lengthAdjust="spacingAndGlyphs">Days on Market and % <tspan fill="#C00000">Below</tspan> List</text>
<text x="266" y="150" font-size="20" font-weight="bold" fill="#C00000" textLength="745" lengthAdjust="spacingAndGlyphs">All single family residential detached homes <tspan font-size="17.5">(excludes townhomes and condos)</tspan></text>
<text x="923.5" y="85" font-size="37.3" font-weight="bold" fill="#C00000" textLength="231.5" lengthAdjust="spacingAndGlyphs">Sept 30  2022</text>
<text x="1163.5" y="86" font-size="15.5" fill="#C00000" textLength="61" lengthAdjust="spacingAndGlyphs">(1 week)</text>
<text x="897" y="881.2" font-size="16.3" fill="#000000" textLength="318" lengthAdjust="spacingAndGlyphs">All rights reserved and  images copyrighted</text>
<text x="27" y="902.8" font-size="16.5" fill="#000000" textLength="1084.5" lengthAdjust="spacingAndGlyphs">Data is from : FVREB, REBGV, CADREB Real Estate Board and they assume no responsibility for its accuracy. By: Vancouver Market Reports</text>
</svg></body></html>
